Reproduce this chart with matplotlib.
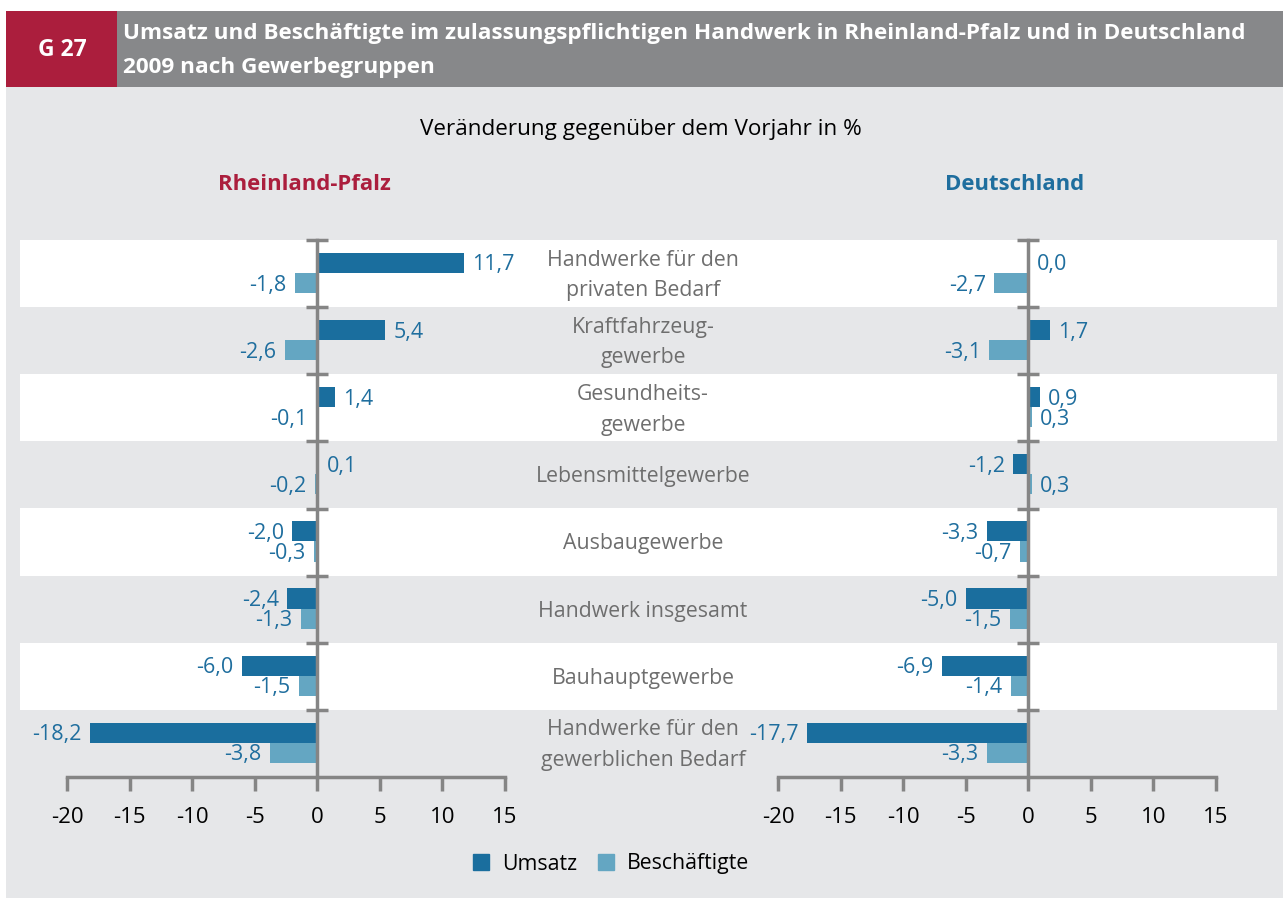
import matplotlib.pyplot as plt
from matplotlib.patches import Rectangle, Patch

# Daten
categories = [
    "Handwerke für den\nprivaten Bedarf",
    "Kraftfahrzeug-\ngewerbe",
    "Gesundheits-\ngewerbe",
    "Lebensmittelgewerbe",
    "Ausbaugewerbe",
    "Handwerk insgesamt",
    "Bauhauptgewerbe",
    "Handwerke für den\ngewerblichen Bedarf",
]
rp_umsatz = [11.7, 5.4, 1.4, 0.1, -2.0, -2.4, -6.0, -18.2]
rp_besch = [-1.8, -2.6, -0.1, -0.2, -0.3, -1.3, -1.5, -3.8]
de_umsatz = [0.0, 1.7, 0.9, -1.2, -3.3, -5.0, -6.9, -17.7]
de_besch = [-2.7, -3.1, 0.3, 0.3, -0.7, -1.5, -1.4, -3.3]
x_ticks = [-20, -15, -10, -5, 0, 5, 10, 15]

DARK = "#1a6e9e"
LIGHT = "#64a6c2"
TXT_BLUE = "#1f6e9e"
RED = "#ab1e3d"
BG = "#e6e7e9"
HEAD = "#87888a"
AXC = "#858585"
CATC = "#6e6e6e"

plt.rcParams['font.family'] = ['Open Sans', 'DejaVu Sans']

W, H = 1283, 899
fig = plt.figure(figsize=(W / 100, H / 100), dpi=100)
fig.patch.set_facecolor("white")

# Hintergrund in Pixelkoordinaten
bg = fig.add_axes([0, 0, 1, 1])
bg.set_xlim(0, W)
bg.set_ylim(H, 0)
bg.axis("off")
bg.add_patch(Rectangle((6, 87), W - 6, 811, color=BG, lw=0))
bg.add_patch(Rectangle((6, 11), W - 6, 76, color=HEAD, lw=0))
bg.add_patch(Rectangle((6, 11), 111, 76, color=RED, lw=0))
bg.text(62, 50, "G 27", color="white", fontsize=16.5, fontweight="bold", ha="center", va="center")
bg.text(123, 33, "Umsatz und Beschäftigte im zulassungspflichtigen Handwerk in Rheinland-Pfalz und in Deutschland",
        color="white", fontsize=16.2, fontweight="bold", ha="left", va="center")
bg.text(123, 68, "2009 nach Gewerbegruppen", color="white", fontsize=16.2, fontweight="bold",
        ha="left", va="center")
bg.text(641, 130, "Veränderung gegenüber dem Vorjahr in %", fontsize=16.2, ha="center", va="center")
bg.text(304, 185, "Rheinland-Pfalz", color=RED, fontsize=15.9, fontweight="bold", ha="center", va="center")
bg.text(1015, 185, "Deutschland", color=TXT_BLUE, fontsize=15.9, fontweight="bold", ha="center", va="center")

row_top, row_h = 240, 67.1
for i, cat in enumerate(categories):
    y0 = row_top + i * row_h
    if i % 2 == 0:
        bg.add_patch(Rectangle((20, y0), 1257, row_h, color="white", lw=0))
    bg.text(643, y0 + row_h / 2 + 2, cat, color=CATC, fontsize=15.3, ha="center", va="center",
            linespacing=1.6)


def panel(left_px, umsatz, besch):
    ax = fig.add_axes([left_px / W, 1 - 777 / H, 438 / W, 537 / H])
    ax.patch.set_alpha(0)
    n = len(umsatz)
    pos = list(range(n))
    ax.barh([p + 0.34 for p in pos], umsatz, height=0.3, color=DARK, zorder=2)
    ax.barh([p + 0.64 for p in pos], besch, height=0.3, color=LIGHT, zorder=2)
    for vals, off in ((umsatz, 0.34), (besch, 0.64)):
        for p, v in zip(pos, vals):
            txt = f"{v:.1f}".replace(".", ",")
            if v >= 0:
                ax.annotate(txt, (v, p + off), xytext=(6, -1.5), textcoords="offset points",
                            ha="left", va="center", color=TXT_BLUE, fontsize=15.5)
            else:
                ax.annotate(txt, (v, p + off), xytext=(-6, -1.5), textcoords="offset points",
                            ha="right", va="center", color=TXT_BLUE, fontsize=15.5)
    ax.set_xlim(-20, 15)
    ax.set_ylim(n, 0)
    for s in ("top", "right"):
        ax.spines[s].set_visible(False)
    ax.spines["bottom"].set_color(AXC)
    ax.spines["bottom"].set_linewidth(2.5)
    ax.spines["left"].set_position(("data", 0))
    ax.spines["left"].set_color(AXC)
    ax.spines["left"].set_linewidth(2.5)
    ax.set_xticks(x_ticks)
    ax.set_xticklabels([str(t) for t in x_ticks])
    ax.tick_params(axis="x", direction="out", length=10, width=2.5, color=AXC,
                   labelsize=16, pad=11.5)
    ax.set_yticks(range(n))
    ax.set_yticklabels([])
    ax.tick_params(axis="y", direction="inout", length=16, width=2.5, color=AXC)
    return ax


ax_rp = panel(67, rp_umsatz, rp_besch)
ax_de = panel(778, de_umsatz, de_besch)

handles = [Patch(color=DARK, label="Umsatz"), Patch(color=LIGHT, label="Beschäftigte")]
fig.legend(handles=handles, loc="center", bbox_to_anchor=(611 / W, 1 - 864 / H), ncol=2,
           frameon=False, fontsize=15.3, handlelength=0.75, handleheight=0.75, columnspacing=1.0,
           handletextpad=0.6)

fig.savefig("out.png", dpi=100)
